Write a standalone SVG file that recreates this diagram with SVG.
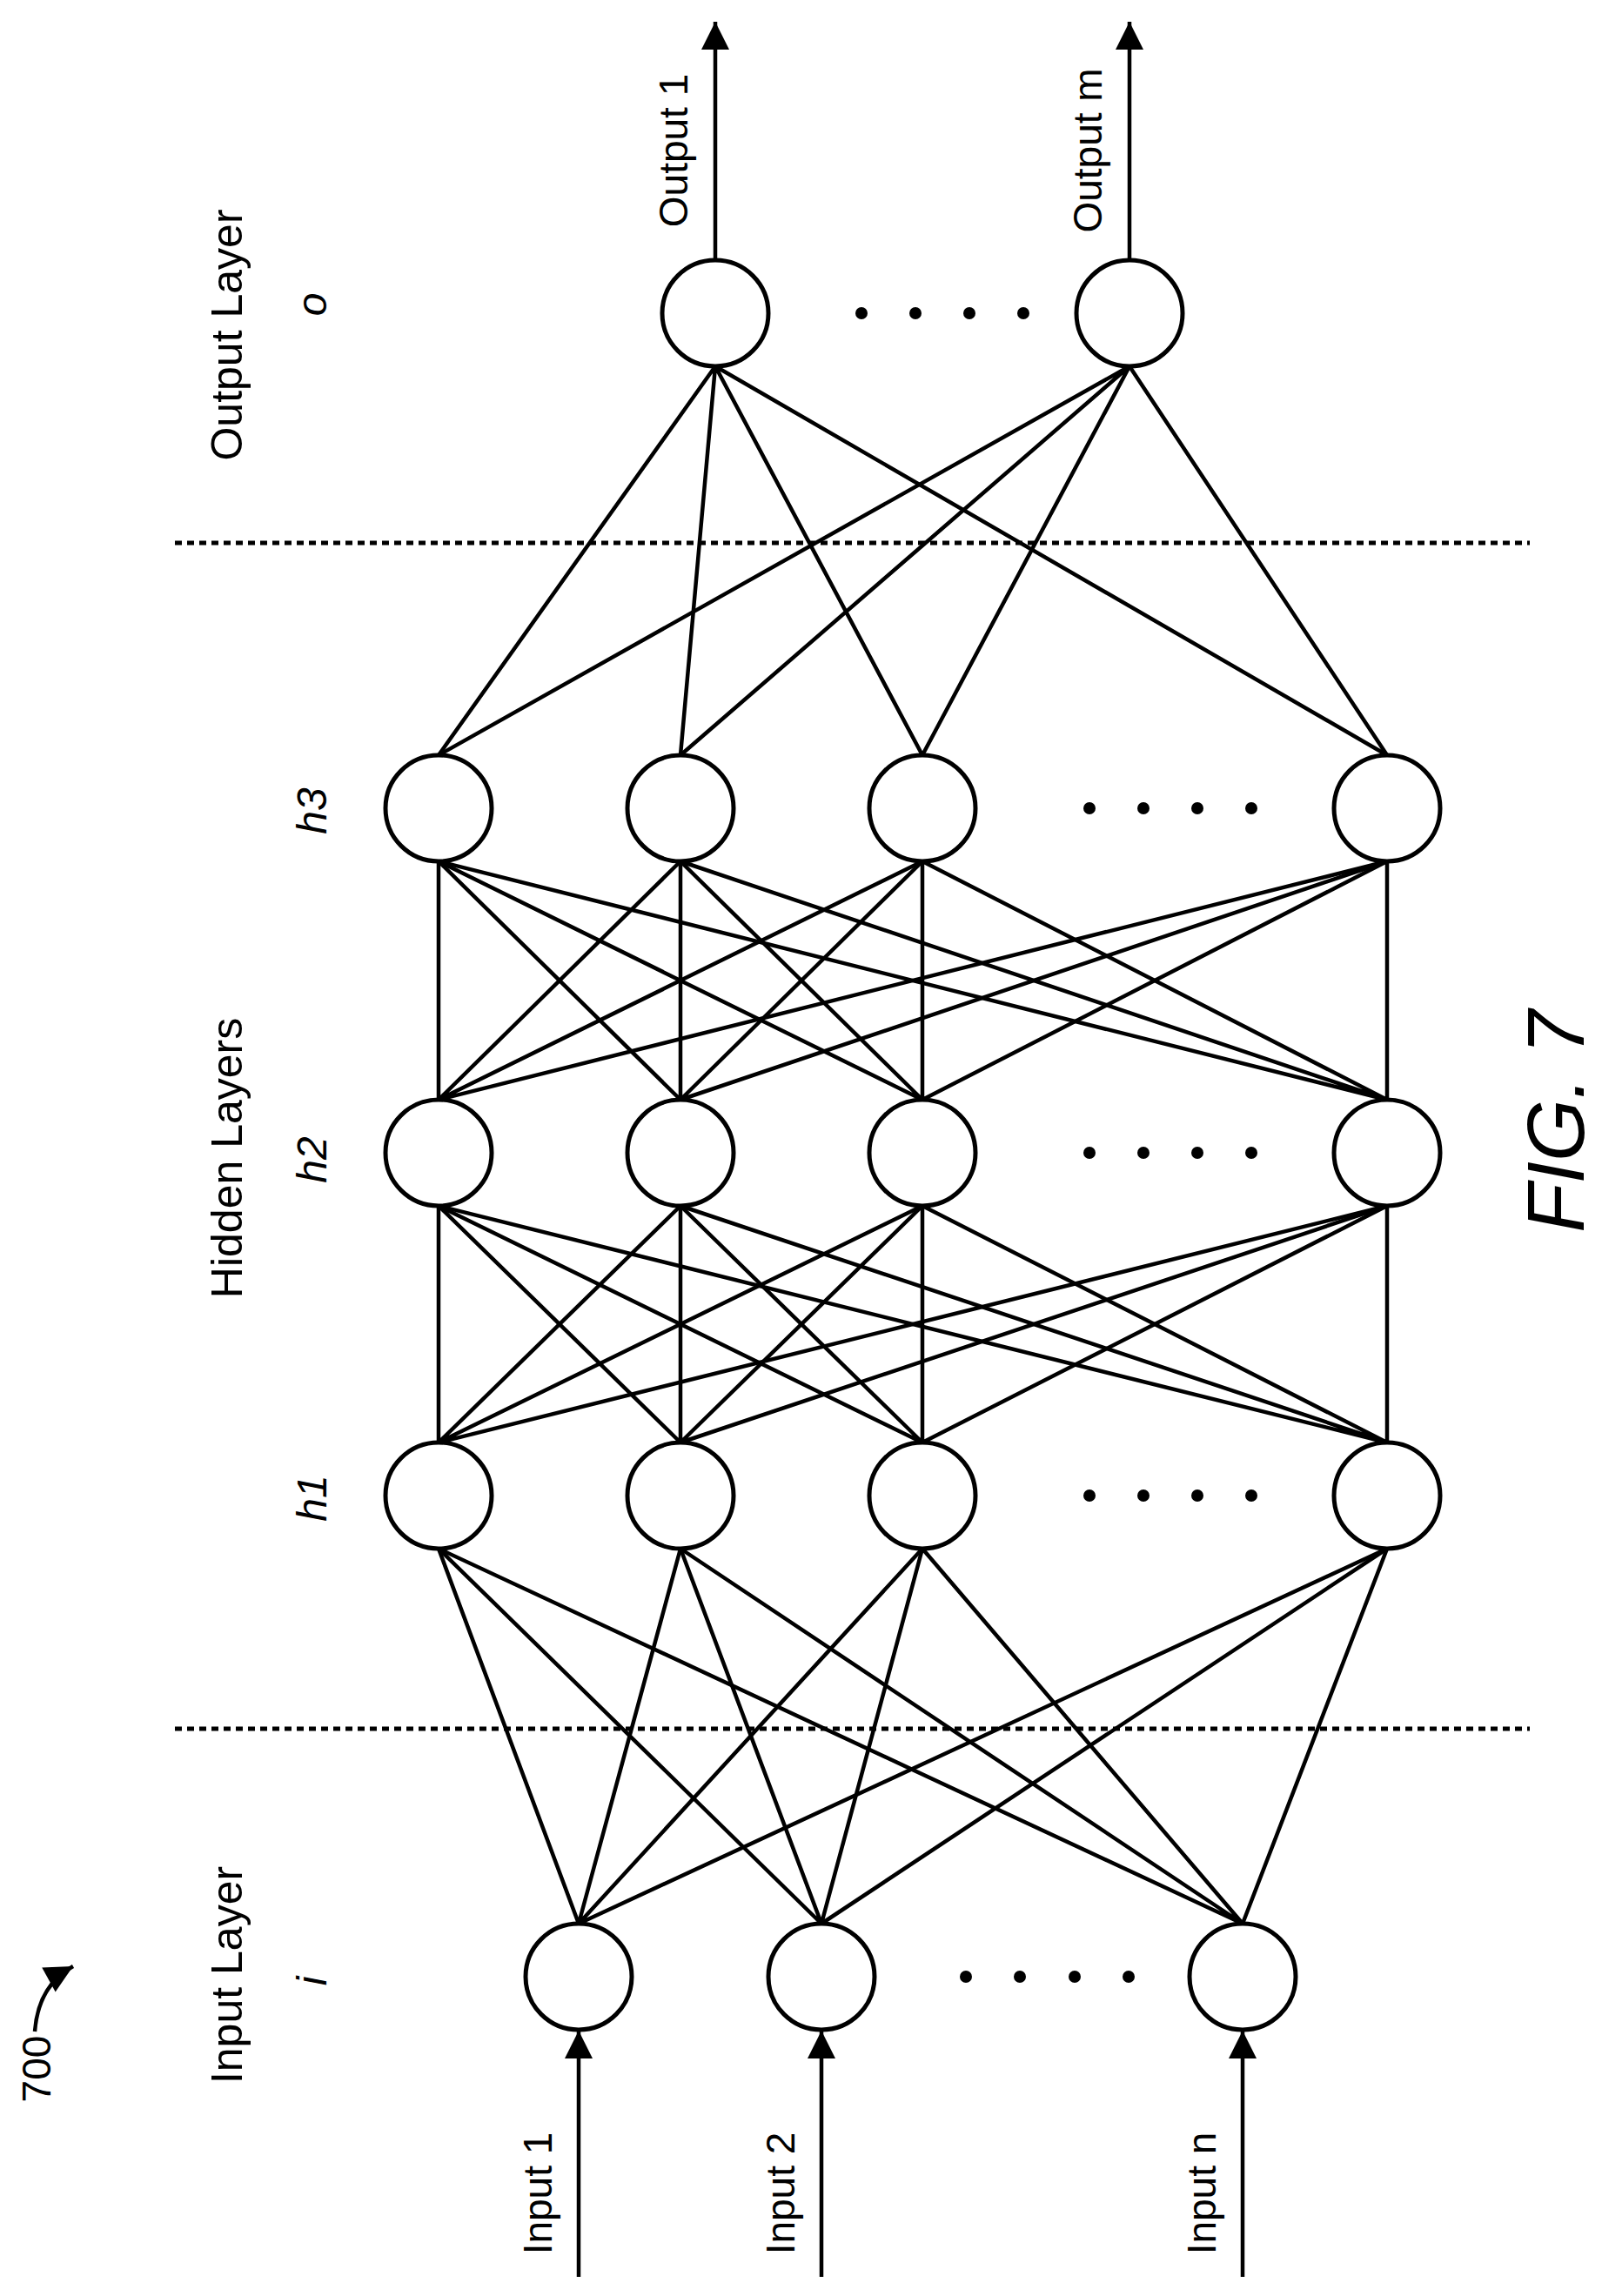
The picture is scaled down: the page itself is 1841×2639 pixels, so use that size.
<svg xmlns="http://www.w3.org/2000/svg" width="1841" height="2639" viewBox="0 0 1841 2639">
<style>
.n{fill:#fff;stroke:#000;stroke-width:5}
.e{stroke:#000;stroke-width:4.5;fill:none}
.d{stroke:#000;stroke-width:5;stroke-dasharray:8 6}
.t{font-family:"Liberation Sans",Arial,sans-serif;font-size:46px;fill:#000}
.L{font-family:"Liberation Sans",Arial,sans-serif;font-size:50px;fill:#000}
.h{font-family:"Liberation Sans",Arial,sans-serif;font-size:48px;fill:#000;font-style:italic}
</style>
<defs>
<marker id="a2" viewBox="0 0 10 10" refX="10" refY="5" markerWidth="44" markerHeight="32" orient="auto" markerUnits="userSpaceOnUse"><path d="M0,0 L10,5 L0,10 z" fill="#000"/></marker>
</defs>
<rect width="1841" height="2639" fill="#fff"/>
<g id="connectors">
<line class="d" x1="201" y1="1987" x2="1758" y2="1987"/>
<line class="d" x1="201" y1="624" x2="1758" y2="624"/>
<line class="e" x1="665" y1="2617" x2="665" y2="2334" marker-end="url(#a2)"/>
<line class="e" x1="944" y1="2617" x2="944" y2="2334" marker-end="url(#a2)"/>
<line class="e" x1="1428" y1="2617" x2="1428" y2="2334" marker-end="url(#a2)"/>
<line class="e" x1="822" y1="300" x2="822" y2="25" marker-end="url(#a2)"/>
<line class="e" x1="1298" y1="300" x2="1298" y2="25" marker-end="url(#a2)"/>
<g class="e">
<path d="M665,2211L504,1780M665,2211L782,1780M665,2211L1060,1780M665,2211L1594,1780"/>
<path d="M944,2211L504,1780M944,2211L782,1780M944,2211L1060,1780M944,2211L1594,1780"/>
<path d="M1428,2211L504,1780M1428,2211L782,1780M1428,2211L1060,1780M1428,2211L1594,1780"/>
<path d="M504,1658L504,1386M504,1658L782,1386M504,1658L1060,1386M504,1658L1594,1386"/>
<path d="M782,1658L504,1386M782,1658L782,1386M782,1658L1060,1386M782,1658L1594,1386"/>
<path d="M1060,1658L504,1386M1060,1658L782,1386M1060,1658L1060,1386M1060,1658L1594,1386"/>
<path d="M1594,1658L504,1386M1594,1658L782,1386M1594,1658L1060,1386M1594,1658L1594,1386"/>
<path d="M504,1264L504,990M504,1264L782,990M504,1264L1060,990M504,1264L1594,990"/>
<path d="M782,1264L504,990M782,1264L782,990M782,1264L1060,990M782,1264L1594,990"/>
<path d="M1060,1264L504,990M1060,1264L782,990M1060,1264L1060,990M1060,1264L1594,990"/>
<path d="M1594,1264L504,990M1594,1264L782,990M1594,1264L1060,990M1594,1264L1594,990"/>
<path d="M504,868L822,421M782,868L822,421M1060,868L822,421M1594,868L822,421"/>
<path d="M504,868L1298,421M782,868L1298,421M1060,868L1298,421M1594,868L1298,421"/>
</g>
<path class="e" d="M40,2335 Q44,2282 84,2260" marker-end="url(#a2)"/>
</g>
<g id="input-layer">
<circle class="n" cx="665" cy="2272" r="61"/>
<circle class="n" cx="944" cy="2272" r="61"/>
<circle class="n" cx="1428" cy="2272" r="61"/>
<g fill="#000"><circle cx="1110" cy="2272" r="7"/><circle cx="1172" cy="2272" r="7"/><circle cx="1235" cy="2272" r="7"/><circle cx="1297" cy="2272" r="7"/></g>
</g>
<g id="h1">
<circle class="n" cx="504" cy="1719" r="61"/><circle class="n" cx="782" cy="1719" r="61"/><circle class="n" cx="1060" cy="1719" r="61"/><circle class="n" cx="1594" cy="1719" r="61"/>
<g fill="#000"><circle cx="1252" cy="1719" r="7"/><circle cx="1314" cy="1719" r="7"/><circle cx="1376" cy="1719" r="7"/><circle cx="1438" cy="1719" r="7"/></g>
</g>
<g id="h2">
<circle class="n" cx="504" cy="1325" r="61"/><circle class="n" cx="782" cy="1325" r="61"/><circle class="n" cx="1060" cy="1325" r="61"/><circle class="n" cx="1594" cy="1325" r="61"/>
<g fill="#000"><circle cx="1252" cy="1325" r="7"/><circle cx="1314" cy="1325" r="7"/><circle cx="1376" cy="1325" r="7"/><circle cx="1438" cy="1325" r="7"/></g>
</g>
<g id="h3">
<circle class="n" cx="504" cy="929" r="61"/><circle class="n" cx="782" cy="929" r="61"/><circle class="n" cx="1060" cy="929" r="61"/><circle class="n" cx="1594" cy="929" r="61"/>
<g fill="#000"><circle cx="1252" cy="929" r="7"/><circle cx="1314" cy="929" r="7"/><circle cx="1376" cy="929" r="7"/><circle cx="1438" cy="929" r="7"/></g>
</g>
<g id="output-layer">
<circle class="n" cx="822" cy="360" r="61"/><circle class="n" cx="1298" cy="360" r="61"/>
<g fill="#000"><circle cx="990" cy="360" r="7"/><circle cx="1052" cy="360" r="7"/><circle cx="1114" cy="360" r="7"/><circle cx="1176" cy="360" r="7"/></g>
</g>
<g id="labels" text-anchor="middle">
<text class="t" transform="translate(634,2521) rotate(-90)">Input 1</text>
<text class="t" transform="translate(913,2521) rotate(-90)">Input 2</text>
<text class="t" transform="translate(1397,2521) rotate(-90)">Input n</text>
<text class="t" transform="translate(790,173) rotate(-90)">Output 1</text>
<text class="t" transform="translate(1266,173) rotate(-90)">Output m</text>
<text class="L" transform="translate(278,2270) rotate(-90)">Input Layer</text>
<text class="L" transform="translate(278,1331) rotate(-90)">Hidden Layers</text>
<text class="L" transform="translate(278,385) rotate(-90)">Output Layer</text>
<text class="h" transform="translate(375,2277) rotate(-90)">i</text>
<text class="h" transform="translate(375,1722) rotate(-90)">h1</text>
<text class="h" transform="translate(375,1333) rotate(-90)">h2</text>
<text class="h" transform="translate(375,932) rotate(-90)">h3</text>
<text class="h" transform="translate(375,350) rotate(-90)">o</text>
<text class="t" transform="translate(58,2378) rotate(-90)">700</text>
<text class="h" transform="translate(1820,1289) rotate(-90)" style="font-size:92px">FIG. 7</text>
</g>
</svg>
